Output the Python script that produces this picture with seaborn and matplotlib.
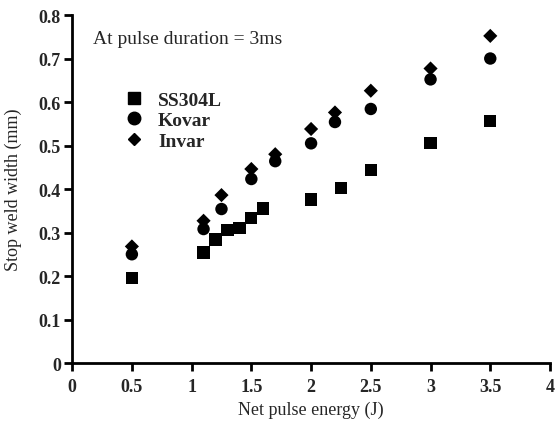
import matplotlib
matplotlib.use("Agg")
import matplotlib.pyplot as plt
import seaborn as sns
import pandas as pd

# Stop weld width vs net pulse energy, pulse duration 3 ms
ss_energy = [0.5, 1.1, 1.2, 1.3, 1.4, 1.5, 1.6, 2.0, 2.25, 2.5, 3.0, 3.5]
ss_width = [0.195, 0.254, 0.284, 0.305, 0.310, 0.333, 0.355, 0.376, 0.402, 0.444, 0.505, 0.557]

alloy_energy = [0.5, 1.1, 1.25, 1.5, 1.7, 2.0, 2.2, 2.5, 3.0, 3.5]
kovar_width = [0.250, 0.308, 0.354, 0.423, 0.464, 0.505, 0.554, 0.584, 0.652, 0.700]
invar_width = [0.268, 0.327, 0.386, 0.446, 0.480, 0.538, 0.576, 0.626, 0.677, 0.752]

materials = ["SS304L", "Kovar", "Invar"]
x_ticks = [0, 0.5, 1, 1.5, 2, 2.5, 3, 3.5, 4]
x_tick_labels = ["0", "0.5", "1", "1.5", "2", "2.5", "3", "3.5", "4"]
y_ticks = [0, 0.1, 0.2, 0.3, 0.4, 0.5, 0.6, 0.7, 0.8]
y_tick_labels = ["0", "0.1", "0.2", "0.3", "0.4", "0.5", "0.6", "0.7", "0.8"]

df = pd.concat([
    pd.DataFrame({"energy": ss_energy, "width": ss_width, "material": "SS304L"}),
    pd.DataFrame({"energy": alloy_energy, "width": kovar_width, "material": "Kovar"}),
    pd.DataFrame({"energy": alloy_energy, "width": invar_width, "material": "Invar"}),
], ignore_index=True)

sns.set_style("ticks")
plt.rcParams["font.family"] = ["Liberation Serif", "DejaVu Serif"]

fig = plt.figure(figsize=(5.55, 4.27), dpi=100)
ax = fig.add_axes([0.13, 0.1475, 0.861, 0.815])

sns.scatterplot(
    data=df, x="energy", y="width", style="material", style_order=materials,
    markers={"SS304L": "s", "Kovar": "o", "Invar": "D"},
    size="material", sizes={"SS304L": 78, "Kovar": 80, "Invar": 52},
    color="black", linewidth=0, ax=ax, legend=False, zorder=3,
)

ax.set_xlim(0, 4)
ax.set_ylim(0, 0.8)
ax.set_xticks(x_ticks)
ax.set_xticklabels(x_tick_labels, fontweight="bold", fontsize=13)
ax.set_yticks(y_ticks)
ax.set_yticklabels(y_tick_labels, fontweight="bold", fontsize=13)
ax.tick_params(axis="both", direction="out", length=6, width=2, color="black")
ax.tick_params(axis="x", pad=5)
ax.tick_params(axis="y", pad=2)
for side in ["left", "bottom"]:
    ax.spines[side].set_linewidth(2)
    ax.spines[side].set_color("black")
sns.despine(ax=ax)

ax.set_xlabel("Net pulse energy (J)", fontsize=13, labelpad=4)
ax.set_ylabel("Stop weld width (mm)", fontsize=13, labelpad=12)

ax.text(0.044, 0.933, "At pulse duration = 3ms", transform=ax.transAxes,
        fontsize=14, va="center", ha="left")

handles = [
    plt.Line2D([], [], ls="", marker="s", color="black", markersize=9),
    plt.Line2D([], [], ls="", marker="o", color="black", markersize=9),
    plt.Line2D([], [], ls="", marker="D", color="black", markersize=6.5),
]
ax.legend(handles, materials, loc="upper left", bbox_to_anchor=(0.068, 0.832),
          frameon=False, prop={"weight": "bold", "size": 14},
          handletextpad=0.65, labelspacing=0.15, handlelength=1.2)

fig.savefig("out.png", dpi=100)
